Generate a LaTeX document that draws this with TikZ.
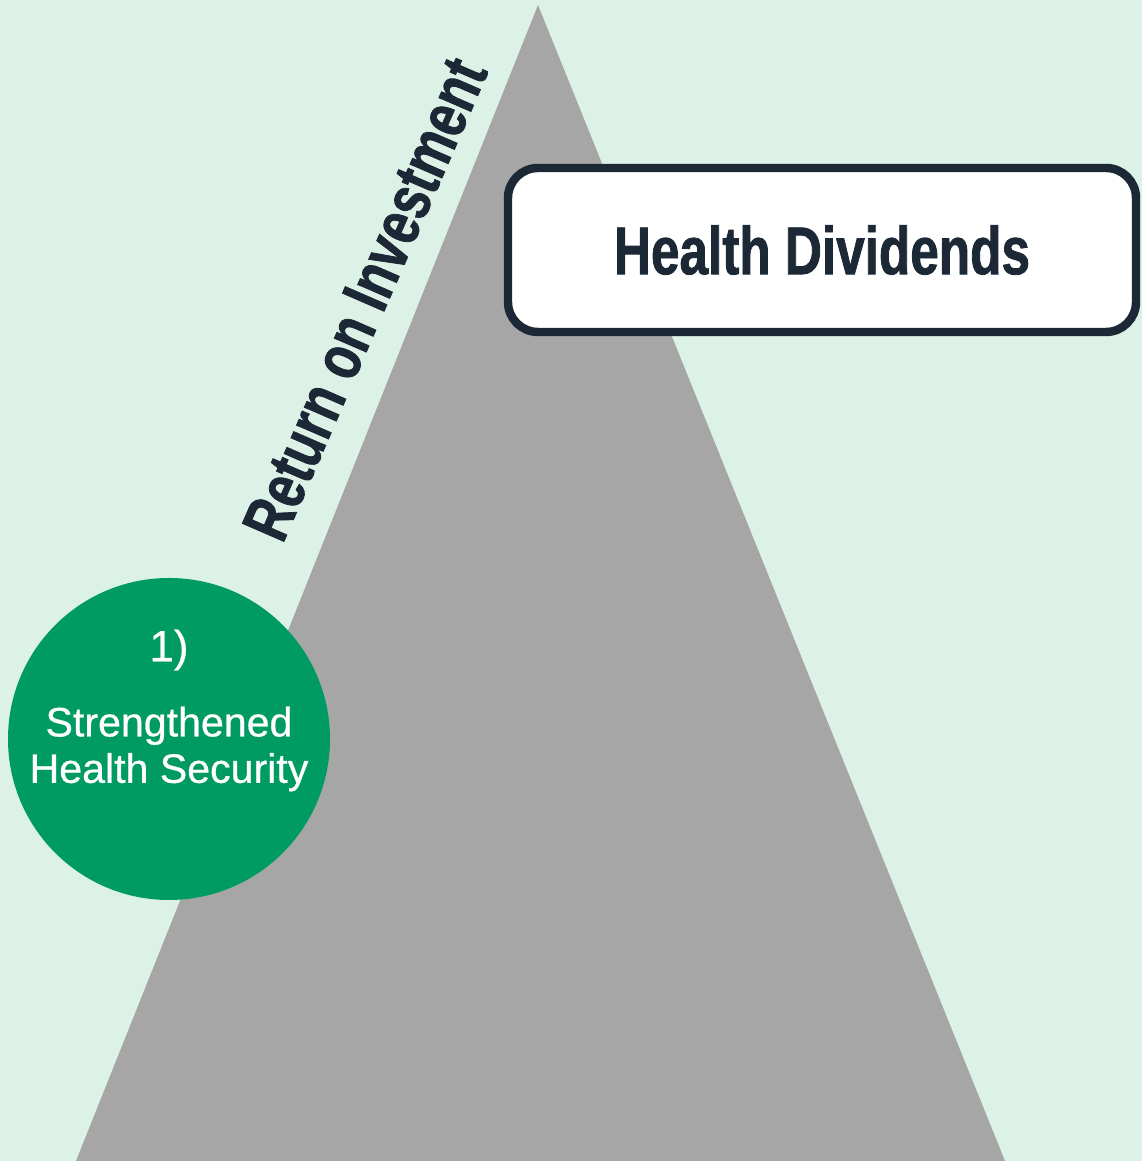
\documentclass[tikz,border=0pt]{standalone}
\usepackage{fontspec}
\setmainfont{Liberation Sans}
\newfontfamily\headfont[FakeStretch=0.76,FakeBold=1.2]{Liberation Sans Bold}
\newfontfamily\circfont[FakeBold=0.6]{Liberation Sans}
\definecolor{bgmint}{HTML}{DDF2E6}
\definecolor{peakgray}{HTML}{A6A6A6}
\definecolor{secgreen}{HTML}{009A63}
\definecolor{inkdark}{HTML}{1C2836}
\tikzset{
  dividendbox/.style={draw=inkdark,line width=2.4pt,fill=white,rounded corners=0.3cm,
    minimum width=6.28cm,minimum height=1.64cm,font=\headfont\fontsize{19.2}{22}\selectfont,text=inkdark},
  securitycircle/.style={circle,fill=secgreen,minimum size=3.22cm,text=white,align=center},
  roilabel/.style={font=\headfont\fontsize{18.8}{22}\selectfont,text=inkdark,rotate=66.5}
}
\begin{document}
\begin{tikzpicture}
  \useasboundingbox[fill=bgmint] (0,0) rectangle (11.42,11.61);
  \fill[peakgray] (5.38,11.56) -- (10.05,0) -- (0.76,0) -- cycle;
  \node[dividendbox] (div) at (8.22,9.11) {Health Dividends};
  \node[roilabel] (roi) at (3.65,8.62) {Return on Investment};
  \node[securitycircle] (sec) at (1.69,4.22) {};
  \node[text=white,font=\circfont\fontsize{12.5}{14}\selectfont] (num) at (1.69,5.11) {1)};
  \node[text=white,align=center,font=\circfont\fontsize{11.7}{13.2}\selectfont] (lbl) at (1.69,4.12)
    {Strengthened\\Health Security};
\end{tikzpicture}
\end{document}
